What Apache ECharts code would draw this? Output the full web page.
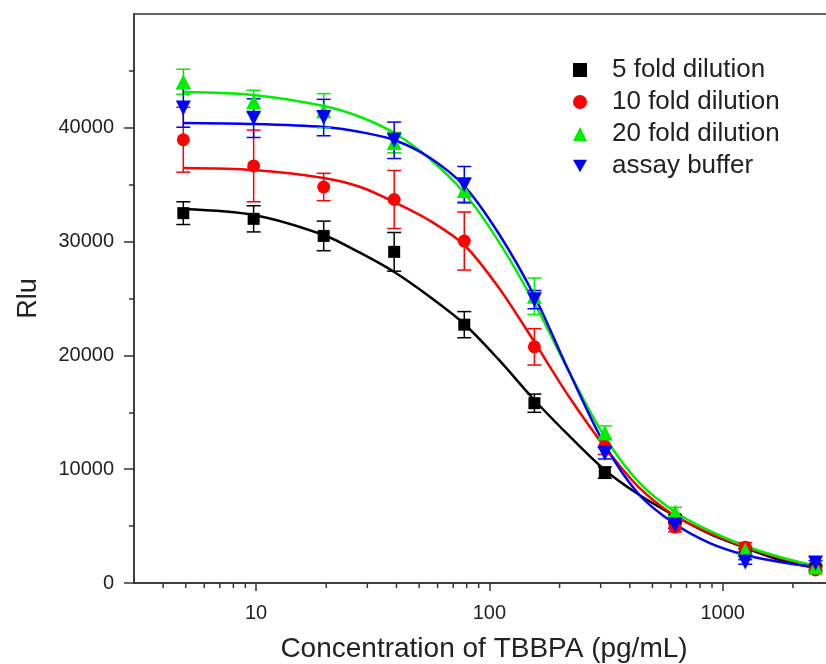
<!DOCTYPE html>
<html>
<head>
<meta charset="utf-8">
<script src="https://cdn.jsdelivr.net/npm/echarts@6/dist/echarts.min.js"></script>
<style>
  html, body { margin: 0; padding: 0; background: #fff; }
  #chart { width: 826px; height: 664px; }
</style>
</head>
<body>
<div id="chart"></div>
<script>
// concentration of TBBPA (pg/mL), two-fold dilution series
var conc = [4.88, 9.77, 19.5, 39.1, 78.1, 156, 312.5, 625, 1250, 2500];

var fold5 = [32500, 32000, 30500, 29100, 22700, 15800, 9700, 5600, 2700, 1300];
var fold5Err = [1000, 1150, 1300, 1700, 1150, 800, 500, 400, 300, 200];
var fold10 = [38950, 36650, 34800, 33700, 30050, 20750, 12000, 4900, 3150, 1150];
var fold10Err = [2850, 3150, 1200, 2550, 2550, 1600, 700, 400, 400, 200];
var fold20 = [44050, 42300, 41500, 38700, 34500, 25200, 13200, 6250, 2900, 1400];
var fold20Err = [1100, 1000, 1500, 900, 1000, 1600, 600, 400, 300, 200];
var buffer = [41750, 40850, 40900, 38900, 35000, 24900, 11400, 5100, 1850, 1750];
var bufferErr = [1700, 1700, 1600, 1600, 1600, 800, 500, 300, 200, 200];

// fitted curves
var fitX = [4.88, 9.77, 19.5, 28, 39.1, 55, 78.1, 110, 156, 220, 312.5, 440, 625, 880, 1250, 1760, 2500];
var fit5 = [32860, 32340, 30580, 29000, 27330, 25220, 22760, 19600, 16080, 12920, 9930, 7730, 5890, 4310, 3080, 2020, 1320];
var fit10 = [36470, 36290, 35590, 34800, 33480, 31900, 29700, 25920, 21180, 16340, 11950, 8350, 5890, 4390, 3160, 2200, 1490];
var fit20 = [43140, 42880, 41910, 40950, 39540, 37340, 34270, 29960, 24600, 18540, 12830, 8790, 6240, 4570, 3250, 2280, 1490];
var fitBuf = [40420, 40330, 40070, 39630, 38930, 37430, 34880, 30670, 25220, 18540, 12130, 7730, 5180, 3510, 2460, 1850, 1410];

// axis ticks
var xLabels = [10, 100, 1000];
var xMinorTicks = [4, 5, 6, 7, 8, 9, 20, 30, 40, 50, 60, 70, 80, 90,
  200, 300, 400, 500, 600, 700, 800, 900, 2000];
var yTicks = [0, 10000, 20000, 30000, 40000];

var names = ['5 fold dilution', '10 fold dilution', '20 fold dilution', 'assay buffer'];
var colors = ['#000000', '#ff0000', '#00ee00', '#0000ff'];
var symbols = ['rect', 'circle', 'triangle', 'path://M0,0L2,0L1,1.8Z'];
var symbolSizes = [12, 13, 15, 15];
var values = [fold5, fold10, fold20, buffer];
var errors = [fold5Err, fold10Err, fold20Err, bufferErr];
var fits = [fit5, fit10, fit20, fitBuf];

var font = 'Liberation Sans, Arial, sans-serif';

function pairs(xs, ys) {
  return xs.map(function (x, i) { return [x, ys[i]] });
}

function errorBarItem(params, api) {
  var x = api.value(0), y = api.value(1), e = api.value(2);
  var top = api.coord([x, y + e]);
  var bot = api.coord([x, y - e]);
  var w = 7;
  var style = { stroke: api.visual('color'), lineWidth: 1.5 };
  return {
    type: 'group',
    children: [
      { type: 'line', shape: { x1: top[0], y1: top[1], x2: bot[0], y2: bot[1] }, style: style },
      { type: 'line', shape: { x1: top[0] - w, y1: top[1], x2: top[0] + w, y2: top[1] }, style: style },
      { type: 'line', shape: { x1: bot[0] - w, y1: bot[1], x2: bot[0] + w, y2: bot[1] }, style: style }
    ]
  };
}

// short ticks under the log axis at 2..9 of every decade
function minorTickItem(params, api) {
  var p = api.coord([api.value(0), 0]);
  return {
    type: 'line',
    shape: { x1: p[0], y1: p[1], x2: p[0], y2: p[1] + 5 },
    style: { stroke: '#333', lineWidth: 1.5 }
  };
}

var series = [];
// fitted curves first (underneath)
fits.forEach(function (f, i) {
  series.push({
    name: 'fit ' + names[i],
    type: 'line',
    data: pairs(fitX, f),
    smooth: 0.3,
    showSymbol: false,
    silent: true,
    z: 2,
    lineStyle: { color: colors[i], width: 2.5 }
  });
});
values.forEach(function (v, i) {
  series.push({
    name: 'err ' + names[i],
    type: 'custom',
    renderItem: errorBarItem,
    data: conc.map(function (c, k) { return [c, v[k], errors[i][k]] }),
    itemStyle: { color: colors[i] },
    silent: true,
    z: 3
  });
});
values.forEach(function (v, i) {
  series.push({
    name: names[i],
    type: 'scatter',
    data: pairs(conc, v),
    symbol: symbols[i],
    symbolSize: symbolSizes[i],
    itemStyle: { color: colors[i], opacity: 1 },
    z: 4
  });
});
series.push({
  name: 'minor ticks',
  type: 'custom',
  renderItem: minorTickItem,
  data: xMinorTicks.map(function (t) { return [t, 0] }),
  silent: true,
  clip: false,
  z: 5
});

var myChart = echarts.init(document.getElementById('chart'));
myChart.setOption({
  backgroundColor: '#fff',
  animation: false,
  grid: {
    left: 134,
    top: 14,
    width: 700,
    height: 569,
    outerBoundsMode: 'none',
    containLabel: false,
    show: true,
    borderColor: '#333',
    borderWidth: 1.5,
    backgroundColor: 'transparent'
  },
  legend: {
    data: names,
    orient: 'vertical',
    left: 568,
    top: 52,
    itemWidth: 14,
    itemHeight: 14,
    itemGap: 6,
    textStyle: {
      fontFamily: font,
      fontSize: 26,
      color: '#222',
      padding: [0, 0, 0, 20]
    }
  },
  xAxis: {
    type: 'log',
    logBase: 10,
    min: 3,
    max: 3000,
    name: 'Concentration of TBBPA (pg/mL)',
    nameLocation: 'middle',
    nameGap: 52,
    nameTextStyle: { fontFamily: font, fontSize: 28, color: '#222' },
    axisLine: { lineStyle: { color: '#333', width: 1.5 } },
    axisTick: { length: 8, lineStyle: { color: '#333', width: 1.5 } },
    axisLabel: {
      fontFamily: font,
      fontSize: 20,
      color: '#222',
      margin: 20,
      showMinLabel: false,
      showMaxLabel: false,
      formatter: function (v) {
        var r = Math.round(v);
        return xLabels.indexOf(r) >= 0 ? String(r) : '';
      }
    },
    splitLine: { show: false }
  },
  yAxis: {
    type: 'value',
    min: 0,
    max: 50000,
    interval: 10000,
    name: 'Rlu',
    nameLocation: 'middle',
    nameGap: 92,
    nameTextStyle: { fontFamily: font, fontSize: 27, color: '#222' },
    axisLine: { show: true, lineStyle: { color: '#333', width: 1.5 } },
    axisTick: { show: true, length: 10, customValues: yTicks, lineStyle: { color: '#333', width: 1.5 } },
    minorTick: { show: true, splitNumber: 2, length: 5, lineStyle: { color: '#333', width: 1.5 } },
    axisLabel: {
      fontFamily: font,
      fontSize: 20,
      color: '#222',
      margin: 20,
      customValues: yTicks,
      formatter: function (v) { return String(v) }
    },
    splitLine: { show: false }
  },
  series: series
});
</script>
</body>
</html>
